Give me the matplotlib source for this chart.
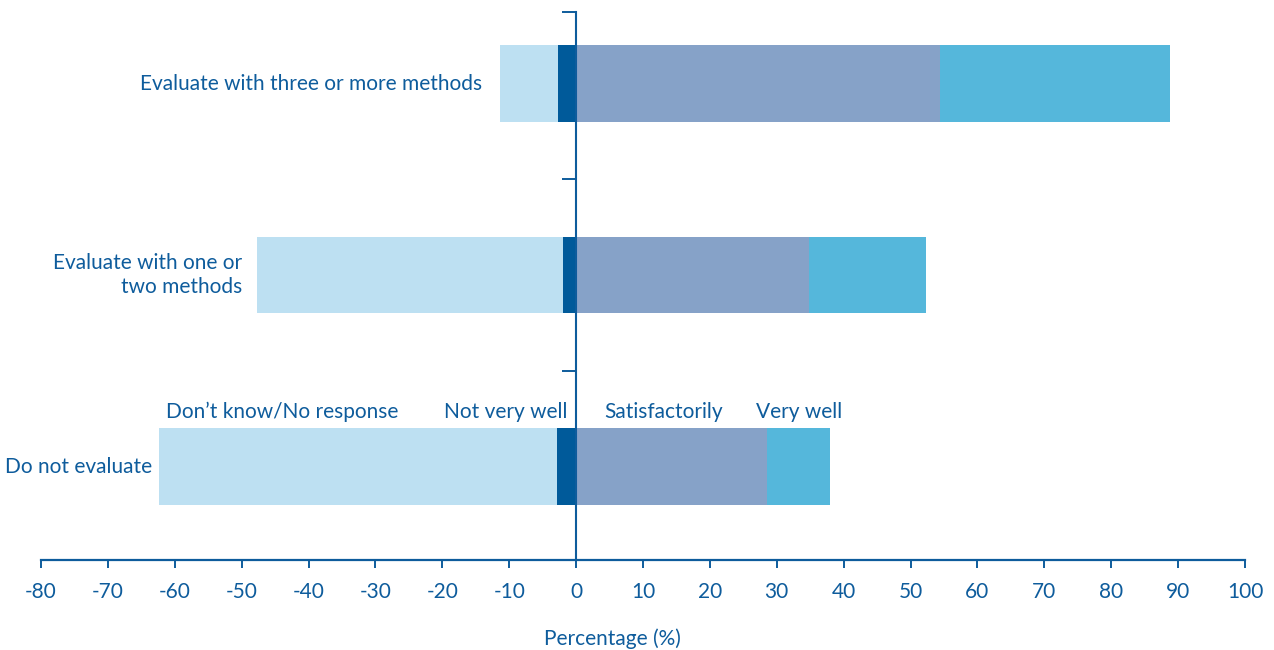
import matplotlib
matplotlib.use('Agg')
import matplotlib.pyplot as plt
import numpy as np

# Daten (von unten nach oben)
categories = ['Do not evaluate', 'Evaluate with one or\ntwo methods', 'Evaluate with three or more methods']
dont_know = [59.6, 45.8, 8.7]
not_very_well = [2.8, 1.9, 2.7]
satisfactorily = [28.6, 34.8, 54.4]
very_well = [9.3, 17.5, 34.4]
series_names = ["Don\u2019t know/No response", 'Not very well', 'Satisfactorily', 'Very well']
x_ticks = list(range(-80, 101, 10))

TXT = '#0E5C9C'
C_DK = '#BDE0F2'
C_NVW = '#005A9A'
C_SAT = '#86A2C8'
C_VW = '#55B7DB'

plt.rcParams['font.family'] = ['Lato', 'DejaVu Sans']
FS = 15


def generate_chart():
    fig = plt.figure(figsize=(12.74, 6.5), dpi=100)
    ax = fig.add_axes([41 / 1274, 1 - 560 / 650, (1245 - 41) / 1274, (560 - 12) / 650])

    y = np.arange(len(categories))
    dk = np.array(dont_know)
    nvw = np.array(not_very_well)
    sat = np.array(satisfactorily)
    vw = np.array(very_well)
    h = 0.40

    ax.barh(y, -nvw, height=h, color=C_NVW, linewidth=0)
    ax.barh(y, -dk, left=-nvw, height=h, color=C_DK, linewidth=0)
    ax.barh(y, sat, height=h, color=C_SAT, linewidth=0)
    ax.barh(y, vw, left=sat, height=h, color=C_VW, linewidth=0)

    ax.set_xlim(-80, 100)
    ax.set_ylim(-0.488, 2.374)

    # Achsen
    for s in ['top', 'right']:
        ax.spines[s].set_visible(False)
    ax.spines['left'].set_position(('data', 0))
    ax.spines['left'].set_color(TXT)
    ax.spines['left'].set_linewidth(1.5)
    ax.spines['bottom'].set_color(TXT)
    ax.spines['bottom'].set_linewidth(1.6)

    ax.set_xticks(x_ticks)
    ax.set_xticklabels([str(t) for t in x_ticks], fontsize=FS, color=TXT)
    ax.tick_params(axis='x', direction='out', length=6, width=1.4, color=TXT, pad=10)

    ax.set_yticks([0.5, 1.5, 2.374])
    ax.set_yticklabels([])
    ax.tick_params(axis='y', direction='out', length=10, width=1.4, color=TXT)

    ax.set_xlabel('Percentage (%)', fontsize=FS, color=TXT)
    ax.xaxis.set_label_coords((612 - 41) / (1245 - 41), -0.125)

    # Kategorie-Beschriftungen links neben den Balken
    label_gap = [-7, -15, -18]
    for i, cat in enumerate(categories):
        left = -(dk[i] + nvw[i])
        ax.annotate(cat, xy=(left, y[i]), xytext=(label_gap[i], 0), textcoords='offset pixels',
                    ha='right', va='center', fontsize=FS, color=TXT, linespacing=1.25)

    # Reihen-Beschriftungen über dem unteren Balken
    yl = y[0] + h / 2
    ax.annotate(series_names[0], xy=(-(dk[0] + nvw[0]), yl), xytext=(7, 6), textcoords='offset pixels',
                ha='left', va='bottom', fontsize=FS, color=TXT)
    ax.annotate(series_names[1], xy=(0, yl), xytext=(-9, 6), textcoords='offset pixels',
                ha='right', va='bottom', fontsize=FS, color=TXT)
    ax.annotate(series_names[2], xy=(0, yl), xytext=(28, 6), textcoords='offset pixels',
                ha='left', va='bottom', fontsize=FS, color=TXT)
    ax.annotate(series_names[3], xy=(sat[0], yl), xytext=(-11, 6), textcoords='offset pixels',
                ha='left', va='bottom', fontsize=FS, color=TXT)

    fig.savefig('out.png', dpi=100)
    plt.close(fig)


if __name__ == '__main__':
    generate_chart()
